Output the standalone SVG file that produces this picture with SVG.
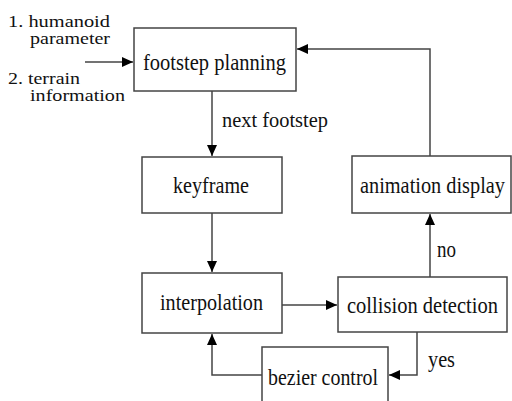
<svg xmlns="http://www.w3.org/2000/svg" width="512" height="401" viewBox="0 0 512 401" font-family="Liberation Serif, Times New Roman, serif">
<style>
.box{fill:#fff;stroke:#444;stroke-width:1.5}
.ln{fill:none;stroke:#444;stroke-width:1.5}
.t{font-size:24px;fill:#111}
.s{font-size:17px;fill:#111}
.m{font-size:21px;fill:#111}
</style>
<defs>
<marker id="ah" markerUnits="userSpaceOnUse" markerWidth="12" markerHeight="10" refX="11" refY="5" orient="auto">
<path d="M0,0 L11,5 L0,10 Z" fill="#000"/>
</marker>
</defs>
<rect width="512" height="401" fill="#fff"/>
<g id="connectors">
<path class="ln" d="M85,62 H133" marker-end="url(#ah)"/>
<path class="ln" d="M212,91 V156" marker-end="url(#ah)"/>
<path class="ln" d="M212,213 V272" marker-end="url(#ah)"/>
<path class="ln" d="M282,305 H337" marker-end="url(#ah)"/>
<path class="ln" d="M430,277 V214" marker-end="url(#ah)"/>
<path class="ln" d="M430,156 V49 H297" marker-end="url(#ah)"/>
<path class="ln" d="M417,332 V375 H389" marker-end="url(#ah)"/>
<path class="ln" d="M262,375 H212 V334" marker-end="url(#ah)"/>
</g>
<g id="inputs">
<text class="s" x="8" y="27" textLength="102" lengthAdjust="spacingAndGlyphs">1. humanoid</text>
<text class="s" x="30" y="44" textLength="80" lengthAdjust="spacingAndGlyphs">parameter</text>
<text class="s" x="8" y="84" textLength="72" lengthAdjust="spacingAndGlyphs">2. terrain</text>
<text class="s" x="30" y="101" textLength="95" lengthAdjust="spacingAndGlyphs">information</text>
</g>
<g id="footstep-planning">
<rect class="box" x="134" y="28" width="162" height="63"/>
<text class="t" x="143" y="70" textLength="143" lengthAdjust="spacingAndGlyphs">footstep planning</text>
</g>
<g id="keyframe">
<rect class="box" x="142" y="157" width="140" height="56"/>
<text class="t" x="173" y="193" textLength="76" lengthAdjust="spacingAndGlyphs">keyframe</text>
</g>
<g id="interpolation">
<rect class="box" x="142" y="273" width="140" height="60"/>
<text class="t" x="160" y="310" textLength="103" lengthAdjust="spacingAndGlyphs">interpolation</text>
</g>
<g id="collision-detection">
<rect class="box" x="338" y="277" width="169" height="55"/>
<text class="t" x="347" y="313" textLength="151" lengthAdjust="spacingAndGlyphs">collision detection</text>
</g>
<g id="animation-display">
<rect class="box" x="352" y="156" width="159" height="57"/>
<text class="t" x="360" y="193" textLength="145" lengthAdjust="spacingAndGlyphs">animation display</text>
</g>
<g id="bezier-control">
<path class="box" d="M262,404 V347 H388 V404"/>
<text class="t" x="268" y="385" textLength="110" lengthAdjust="spacingAndGlyphs">bezier control</text>
</g>
<g id="labels">
<text class="m" x="222" y="127" textLength="106" lengthAdjust="spacingAndGlyphs">next footstep</text>
<text class="t" x="437" y="257" textLength="19" lengthAdjust="spacingAndGlyphs">no</text>
<text class="t" x="428" y="367" textLength="27" lengthAdjust="spacingAndGlyphs">yes</text>
</g>
</svg>
